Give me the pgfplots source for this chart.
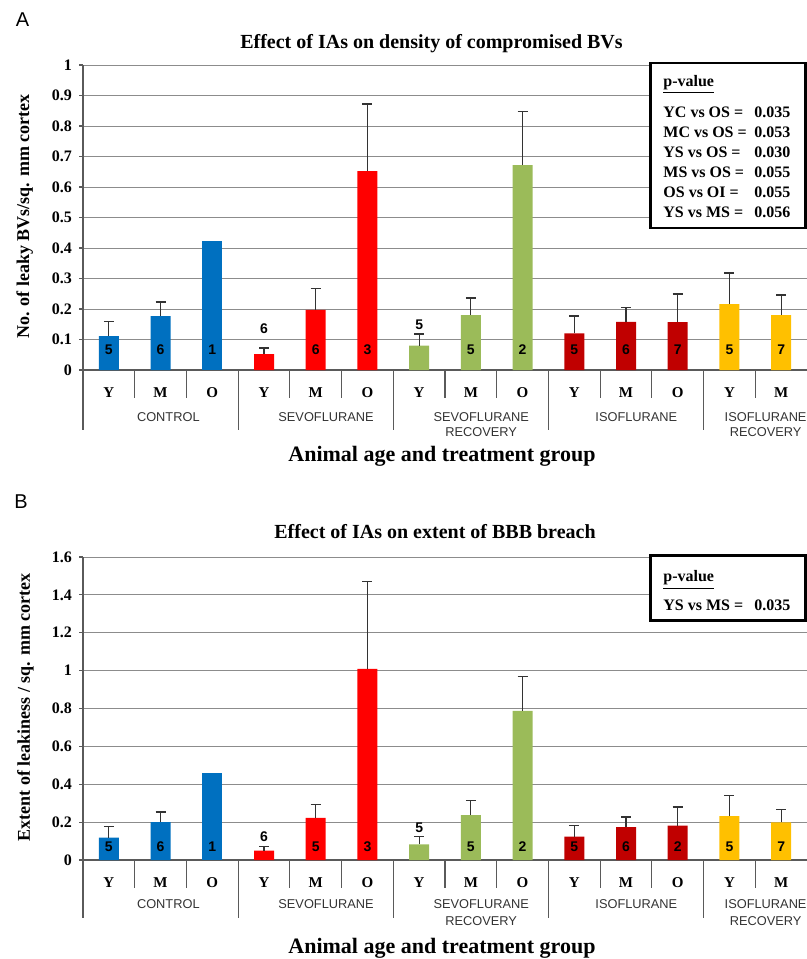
\documentclass[border=0pt]{standalone}
\usepackage{fontspec}
\setmainfont{Liberation Serif}
\setsansfont{Liberation Sans}
\usepackage{pgfplots}
\pgfplotsset{compat=1.18}

\definecolor{cblue}{RGB}{0,112,192}
\definecolor{cred}{RGB}{255,0,0}
\definecolor{cgreen}{RGB}{155,187,89}
\definecolor{cdred}{RGB}{192,0,0}
\definecolor{cyel}{RGB}{255,192,0}
\definecolor{gridc}{RGB}{140,140,140}
\definecolor{axc}{RGB}{90,90,90}

\tikzset{grp/.style={font=\sffamily\fontsize{6.4}{7}\selectfont, text=black!80, anchor=base}}
\pgfplotsset{
 mybar/.style={ybar, bar width=10pt, bar shift=0pt, draw=none, fill=#1,
   error bars/.cd, y dir=plus, y explicit, error mark=-,
   error bar style={draw=black!80, line width=0.6pt},
   error mark options={rotate=90, draw=black!80, line width=0.6pt, mark size=2.5pt}},
 mybarne/.style={ybar, bar width=10pt, bar shift=0pt, draw=none, fill=#1},
 panel/.style={
   scale only axis, width=362pt, xmin=-0.5, xmax=13.5, ymin=0,
   axis x line*=bottom, axis y line*=left,
   axis line style={axc, line width=0.6pt, -},
   ymajorgrids, grid style={gridc, line width=0.5pt},
   xtick={0,...,13}, xticklabels={Y,M,O,Y,M,O,Y,M,O,Y,M,O,Y,M},
   xtick style={draw=none},
   tick align=outside, major tick length=2pt, ytick style={axc, line width=0.6pt},
   xticklabel style={font=\bfseries\fontsize{7.5}{8}\selectfont, anchor=base, yshift=-11.5pt},
   yticklabel style={font=\bfseries\fontsize{8}{9}\selectfont},
   /pgf/number format/assume math mode=true,
   clip=false,
 },
 cnt/.style={only marks, mark=none, nodes near coords, point meta=explicit symbolic,
   every node near coord/.append style={anchor=center, font=\sffamily\bfseries\fontsize{7}{8}\selectfont, text=black, inner sep=0pt}},
}

\begin{document}
\begin{tikzpicture}
\useasboundingbox (0,0) rectangle (403.5pt,-479.5pt);

% ---------------- Panel A ----------------
\node[font=\sffamily\fontsize{10}{12}\selectfont] at (11.3pt,-10pt) {A};
\node[font=\bfseries\fontsize{10}{12}\selectfont, anchor=base] at (215.75pt,-24pt) {Effect of IAs on density of compromised BVs};
\node[rotate=90, anchor=base, font=\bfseries\fontsize{9}{10}\selectfont] at (14.5pt,-108.25pt) {No. of leaky BVs/sq. mm cortex};

\begin{axis}[panel, at={(41.5pt,-185pt)}, anchor=south west, height=152.5pt, ymax=1,
  ytick={0,0.1,0.2,0.3,0.4,0.5,0.6,0.7,0.8,0.9,1}]
\addplot[mybar=cblue] coordinates {(0,0.111) +- (0,0.049) (1,0.177) +- (0,0.046)};
\addplot[mybarne=cblue] coordinates {(2,0.424)};
\addplot[mybar=cred] coordinates {(3,0.052) +- (0,0.020) (4,0.197) +- (0,0.069) (5,0.652) +- (0,0.220)};
\addplot[mybar=cgreen] coordinates {(6,0.080) +- (0,0.038) (7,0.180) +- (0,0.056) (8,0.672) +- (0,0.175)};
\addplot[mybar=cdred] coordinates {(9,0.120) +- (0,0.057) (10,0.158) +- (0,0.046) (11,0.157) +- (0,0.092)};
\addplot[mybar=cyel] coordinates {(12,0.216) +- (0,0.102) (13,0.180) +- (0,0.066)};
\addplot[cnt] table[meta=n] {
x y n
0 0.066 5
1 0.066 6
2 0.066 1
3 0.134 6
4 0.066 6
5 0.066 3
6 0.148 5
7 0.066 5
8 0.066 2
9 0.066 5
10 0.066 6
11 0.066 7
12 0.066 5
13 0.066 7
};
\pgfplotsinvokeforeach{0.5,1.5,3.5,4.5,6.5,7.5,9.5,10.5,12.5}{\draw[axc, line width=0.6pt] (axis cs:#1,0) -- ++(0pt,-14pt);}
\pgfplotsinvokeforeach{-0.5,2.5,5.5,8.5,11.5}{\draw[axc, line width=0.6pt] (axis cs:#1,0) -- ++(0pt,-30pt);}
\node[grp] at ([yshift=-25.8pt]axis cs:1.15,0) {CONTROL};
\node[grp] at ([yshift=-25.8pt]axis cs:4.2,0) {SEVOFLURANE};
\node[grp] at ([yshift=-25.8pt]axis cs:7.2,0) {SEVOFLURANE};
\node[grp] at ([yshift=-33pt]axis cs:7.2,0) {RECOVERY};
\node[grp] at ([yshift=-25.8pt]axis cs:10.2,0) {ISOFLURANE};
\node[grp] at ([yshift=-25.8pt]axis cs:12.7,0) {ISOFLURANE};
\node[grp] at ([yshift=-33pt]axis cs:12.7,0) {RECOVERY};
\end{axis}

\node[font=\bfseries\fontsize{11}{12}\selectfont, anchor=base] at (221pt,-230.5pt) {Animal age and treatment group};

\draw[line width=1.3pt, fill=white] (325.3pt,-31.5pt) rectangle (402.6pt,-114pt);
\begin{scope}[every node/.style={anchor=base west, font=\bfseries\fontsize{8}{9}\selectfont, inner sep=0pt}]
\node at (331.5pt,-43pt) {\underline{p-value}};
\node at (331.5pt,-58.5pt) {\makebox[63.5pt][l]{YC vs OS =\hfill 0.035}};
\node at (331.5pt,-68.5pt) {\makebox[63.5pt][l]{MC vs OS =\hfill 0.053}};
\node at (331.5pt,-78.5pt) {\makebox[63.5pt][l]{YS vs OS =\hfill 0.030}};
\node at (331.5pt,-88.5pt) {\makebox[63.5pt][l]{MS vs OS =\hfill 0.055}};
\node at (331.5pt,-98.5pt) {\makebox[63.5pt][l]{OS vs OI =\hfill 0.055}};
\node at (331.5pt,-108.5pt) {\makebox[63.5pt][l]{YS vs MS =\hfill 0.056}};
\end{scope}

% ---------------- Panel B ----------------
\node[font=\sffamily\fontsize{10}{12}\selectfont] at (10.5pt,-251pt) {B};
\node[font=\bfseries\fontsize{10}{12}\selectfont, anchor=base] at (217.5pt,-269pt) {Effect of IAs on extent of BBB breach};
\node[rotate=90, anchor=base, font=\bfseries\fontsize{9}{10}\selectfont] at (15pt,-353.75pt) {Extent of leakiness / sq. mm cortex};

\begin{axis}[panel, at={(41.5pt,-430pt)}, anchor=south west, height=151.5pt, ymax=1.6,
  ytick={0,0.2,0.4,0.6,0.8,1,1.2,1.4,1.6}]
\addplot[mybar=cblue] coordinates {(0,0.118) +- (0,0.058) (1,0.200) +- (0,0.053)};
\addplot[mybarne=cblue] coordinates {(2,0.460)};
\addplot[mybar=cred] coordinates {(3,0.049) +- (0,0.021) (4,0.223) +- (0,0.071) (5,1.009) +- (0,0.462)};
\addplot[mybar=cgreen] coordinates {(6,0.083) +- (0,0.040) (7,0.237) +- (0,0.076) (8,0.787) +- (0,0.183)};
\addplot[mybar=cdred] coordinates {(9,0.123) +- (0,0.060) (10,0.174) +- (0,0.053) (11,0.181) +- (0,0.099)};
\addplot[mybar=cyel] coordinates {(12,0.232) +- (0,0.109) (13,0.199) +- (0,0.066)};
\addplot[cnt] table[meta=n] {
x y n
0 0.07 5
1 0.07 6
2 0.07 1
3 0.123 6
4 0.07 5
5 0.07 3
6 0.169 5
7 0.07 5
8 0.07 2
9 0.07 5
10 0.07 6
11 0.07 2
12 0.07 5
13 0.07 7
};
\pgfplotsinvokeforeach{0.5,1.5,3.5,4.5,6.5,7.5,9.5,10.5,12.5}{\draw[axc, line width=0.6pt] (axis cs:#1,0) -- ++(0pt,-14pt);}
\pgfplotsinvokeforeach{-0.5,2.5,5.5,8.5,11.5}{\draw[axc, line width=0.6pt] (axis cs:#1,0) -- ++(0pt,-29pt);}
\node[grp] at ([yshift=-24pt]axis cs:1.15,0) {CONTROL};
\node[grp] at ([yshift=-24pt]axis cs:4.2,0) {SEVOFLURANE};
\node[grp] at ([yshift=-24pt]axis cs:7.2,0) {SEVOFLURANE};
\node[grp] at ([yshift=-32.5pt]axis cs:7.2,0) {RECOVERY};
\node[grp] at ([yshift=-24pt]axis cs:10.2,0) {ISOFLURANE};
\node[grp] at ([yshift=-24pt]axis cs:12.7,0) {ISOFLURANE};
\node[grp] at ([yshift=-32.5pt]axis cs:12.7,0) {RECOVERY};
\end{axis}

\node[font=\bfseries\fontsize{11}{12}\selectfont, anchor=base] at (221pt,-476.5pt) {Animal age and treatment group};

\draw[line width=1.3pt, fill=white] (325.3pt,-277.8pt) rectangle (402.6pt,-310.3pt);
\begin{scope}[every node/.style={anchor=base west, font=\bfseries\fontsize{8}{9}\selectfont, inner sep=0pt}]
\node at (331.5pt,-290.85pt) {\underline{p-value}};
\node at (331.5pt,-305pt) {\makebox[63.5pt][l]{YS vs MS =\hfill 0.035}};
\end{scope}
\end{tikzpicture}
\end{document}
